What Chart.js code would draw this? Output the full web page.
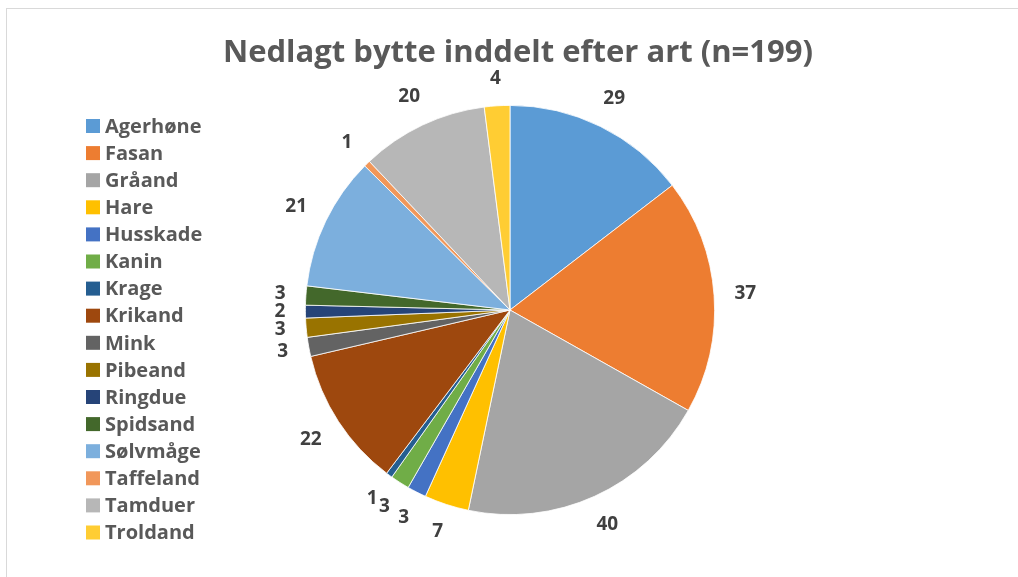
<!DOCTYPE html>
<html>
<head>
<meta charset="utf-8">
<script src="https://cdn.jsdelivr.net/npm/chart.js@4.4.0/dist/chart.umd.min.js"></script>
<style>
  html, body { margin: 0; padding: 0; background: #fff; }
  #wrap { width: 1018px; height: 577px; position: relative; }
</style>
</head>
<body>
<div id="wrap"><canvas id="pieChart" width="1018" height="577"></canvas></div>
<script>
// Data
const categories = ['Agerhøne', 'Fasan', 'Gråand', 'Hare', 'Husskade', 'Kanin', 'Krage', 'Krikand',
    'Mink', 'Pibeand', 'Ringdue', 'Spidsand', 'Sølvmåge', 'Taffeland', 'Tamduer', 'Troldand'];
const counts = [29, 37, 40, 7, 3, 3, 1, 22, 3, 3, 2, 3, 21, 1, 20, 4];
const titleText = 'Nedlagt bytte inddelt efter art (n=199)';

const sliceColors = ['#5B9BD5', '#ED7D31', '#A5A5A5', '#FFC000', '#4472C4', '#70AD47', '#255E91', '#9E480E',
    '#636363', '#997300', '#264478', '#43682B', '#7CAFDD', '#F1975A', '#B7B7B7', '#FFCD33'];

const FONT = '"Open Sans", sans-serif';

// frame round the chart + title
const framePlugin = {
    id: 'frame',
    beforeDraw(chart) {
        const ctx = chart.ctx;
        ctx.save();
        ctx.fillStyle = '#fff';
        ctx.fillRect(0, 0, chart.width, chart.height);
        ctx.strokeStyle = '#d9d9d9';
        ctx.lineWidth = 1;
        ctx.strokeRect(6.5, 8.5, chart.width + 20, chart.height + 20);
        ctx.restore();
    },
    afterDraw(chart) {
        const ctx = chart.ctx;
        ctx.save();
        ctx.font = 'bold 31px ' + FONT;
        ctx.fillStyle = '#595959';
        ctx.textAlign = 'center';
        ctx.textBaseline = 'middle';
        ctx.fillText(titleText, 518, 53);
        ctx.restore();
    }
};

// legend on the left
const sideLegend = {
    id: 'sideLegend',
    afterDraw(chart) {
        const ctx = chart.ctx;
        const ds = chart.data.datasets[0];
        ctx.save();
        ctx.font = 'bold 20px ' + FONT;
        ctx.textBaseline = 'middle';
        chart.data.labels.forEach((lab, i) => {
            const y = 126 + i * 27.1;
            ctx.fillStyle = ds.backgroundColor[i];
            ctx.fillRect(86, y - 7, 14, 14);
            ctx.fillStyle = '#595959';
            ctx.fillText(lab, 105, y + 1);
        });
        ctx.restore();
    }
};

// value labels outside each slice
const outsideLabels = {
    id: 'outsideLabels',
    afterDatasetsDraw(chart) {
        const ctx = chart.ctx;
        const meta = chart.getDatasetMeta(0);
        const vals = chart.data.datasets[0].data;
        ctx.save();
        ctx.font = 'bold 19px ' + FONT;
        ctx.fillStyle = '#404040';
        ctx.textAlign = 'center';
        ctx.textBaseline = 'middle';
        meta.data.forEach((arc, i) => {
            const mid = (arc.startAngle + arc.endAngle) / 2;
            const txt = String(vals[i]);
            const w = ctx.measureText(txt).width;
            const h = 14;
            const s = Math.cos(mid), c = Math.sin(mid);
            const dist = arc.outerRadius + 20 + (w / 2) * Math.abs(s) + (h / 2) * Math.abs(c);
            ctx.fillText(txt, arc.x + dist * s, arc.y + dist * c);
        });
        ctx.restore();
    }
};

document.addEventListener('DOMContentLoaded', function() {
    const ctx = document.getElementById('pieChart').getContext('2d');
    new Chart(ctx, {
        type: 'pie',
        data: {
            labels: categories,
            datasets: [{
                data: counts,
                backgroundColor: sliceColors,
                borderColor: '#ffffff',
                borderWidth: 0.8
            }]
        },
        options: {
            responsive: false,
            animation: false,
            layout: {
                padding: { left: 300, right: 298, top: 105, bottom: 62 }
            },
            plugins: {
                legend: { display: false },
                tooltip: { enabled: false },
                title: { display: false }
            }
        },
        plugins: [framePlugin, sideLegend, outsideLabels]
    });
});
</script>
</body>
</html>
